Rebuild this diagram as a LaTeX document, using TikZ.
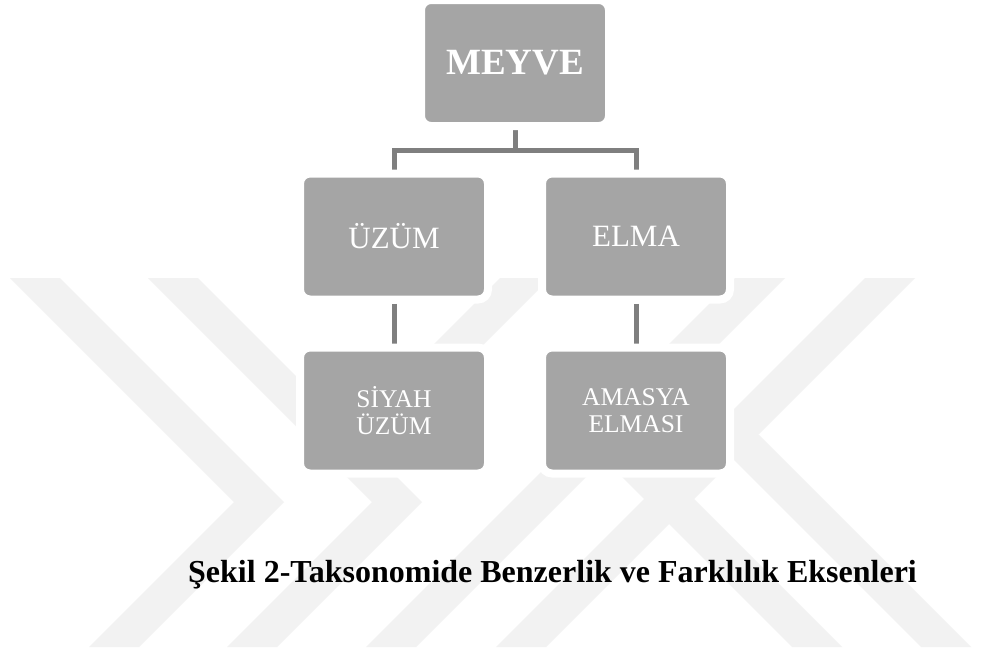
\documentclass[tikz,border=0pt]{standalone}
\usepackage{fontspec}
\setmainfont{Liberation Serif}

\pgfdeclarelayer{mark}
\pgfdeclarelayer{links}
\pgfsetlayers{mark,links,main}

\definecolor{boxgray}{RGB}{165,165,165}
\definecolor{linkgray}{RGB}{127,127,127}
\definecolor{markgray}{RGB}{242,242,242}

\begin{document}
\begin{tikzpicture}[x=1pt,y=-1pt,
  box/.style={rectangle, rounded corners=10pt, fill=boxgray, draw=white,
    line width=8pt, minimum width=188pt, minimum height=126pt,
    text=white, align=center, inner sep=0pt},
  link/.style={draw=linkgray, line width=5pt},
  stripe/.style={fill=markgray}]

% page area
\useasboundingbox (0,0) rectangle (981,653);

% hierarchy boxes
\node[box, font=\fontsize{37}{40}\selectfont\bfseries] (meyve) at (515,63) {MEYVE};
\node[box, font=\fontsize{31}{34}\selectfont] (uzum) at (394,236.5) {ÜZÜM};
\node[box, font=\fontsize{31}{34}\selectfont] (elma) at (636,236.5) {ELMA};
\node[box, font=\fontsize{25.5}{26.7}\selectfont] (siyah) at (394,410.5) {SİYAH\\ÜZÜM};
\node[box, font=\fontsize{25.5}{26.7}\selectfont] (amasya) at (636,410.5) {AMASYA\\ELMASI};

% caption
\node[font=\fontsize{32}{36}\selectfont\bfseries, anchor=base, inner sep=0pt]
  (caption) at (552.5,582) {Şekil 2-Taksonomide Benzerlik ve Farklılık Eksenleri};

% faint striped emblem behind everything
\begin{pgfonlayer}{mark}
  \fill[white] (0,0) rectangle (981,653);
  \fill[stripe] (10,278) -- (60,278) -- (284,502) -- (139,647) -- (89,647) -- (234,502) -- cycle;
  \fill[stripe] (148,278) -- (198,278) -- (422,502) -- (277,647) -- (227,647) -- (372,502) -- cycle;
  \fill[stripe] (500,278) -- (550,278) -- (380,448) -- (330,448) -- cycle;
  \fill[stripe] (735,278) -- (785,278) -- (416,647) -- (366,647) -- cycle;
  \fill[stripe] (865,278) -- (915,278) -- (546,647) -- (496,647) -- cycle;
  \fill[stripe] (580,435) -- (630,435) -- (842,647) -- (792,647) -- cycle;
  \fill[stripe] (709,435) -- (759,435) -- (971,647) -- (921,647) -- cycle;
\end{pgfonlayer}

% tree connectors
\coordinate (bus) at (515,150);
\begin{pgfonlayer}{links}
  \draw[link] (meyve) -- (bus) -| (uzum);
  \draw[link] (bus) -| (elma);
  \draw[link] (uzum) -- (siyah);
  \draw[link] (elma) -- (amasya);
\end{pgfonlayer}
\end{tikzpicture}
\end{document}
